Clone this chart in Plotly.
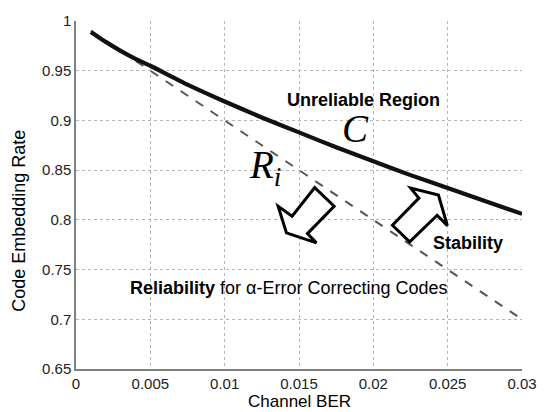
import plotly.graph_objects as go

# ---- data ----
ber_c = [0.001, 0.002, 0.003, 0.004, 0.005, 0.0075, 0.01, 0.0125, 0.015,
         0.0175, 0.02, 0.0225, 0.025, 0.0275, 0.03]
rate_c = [0.989, 0.979, 0.970, 0.962, 0.955, 0.936, 0.919, 0.903, 0.888,
          0.873, 0.859, 0.845, 0.832, 0.819, 0.806]

ber_r = [0.001, 0.005, 0.01, 0.015, 0.02, 0.025, 0.03]
rate_r = [0.99, 0.95, 0.90, 0.85, 0.80, 0.75, 0.70]

x_ticks = [0, 0.005, 0.01, 0.015, 0.02, 0.025, 0.03]
x_ticktext = ["0", "0.005", "0.01", "0.015", "0.02", "0.025", "0.03"]
y_ticks = [0.65, 0.7, 0.75, 0.8, 0.85, 0.9, 0.95, 1.0]
y_ticktext = ["0.65", "0.7", "0.75", "0.8", "0.85", "0.9", "0.95", "1"]

FONT = "Liberation Sans, Arial, sans-serif"
SERIF = "Liberation Serif, Times New Roman, serif"

fig = go.Figure()
fig.add_trace(go.Scatter(x=ber_r, y=rate_r, mode="lines",
                         line=dict(color="#555555", width=2, dash="dash"),
                         showlegend=False, hoverinfo="skip"))
fig.add_trace(go.Scatter(x=ber_c, y=rate_c, mode="lines",
                         line=dict(color="#111111", width=4.2, shape="spline",
                                   smoothing=0.6),
                         showlegend=False, hoverinfo="skip"))

# hollow block arrows: pixel outlines relative to an anchor point (y up)
arrow_down_left = [(8.3, 28), (27.7, 9.3), (1, -18), (10, -27.3), (-20, -17.3),
                   (-28.3, 9.3), (-14.3, -0.7)]
arrow_up_right = [(-27.7, -9.7), (-10.5, -26.3), (17, 0.3), (27.2, -10),
                  (18.3, 20.5), (-9.5, 27.5), (-1.3, 17.5)]


def arrow_path(pts):
    s = "M " + " L ".join(f"{px},{py}" for px, py in pts) + " Z"
    return s


for anchor, pts in [((0.0155, 0.8043), arrow_down_left),
                    ((0.02315, 0.8043), arrow_up_right)]:
    fig.add_shape(type="path", xref="x", yref="y",
                  xsizemode="pixel", ysizemode="pixel",
                  xanchor=anchor[0], yanchor=anchor[1],
                  path=arrow_path(pts),
                  line=dict(color="black", width=3),
                  fillcolor="white", layer="above")

ann = [
    dict(x=0.01937, y=0.9204, text="<b>Unreliable Region</b>",
         font=dict(family=FONT, size=18, color="black")),
    dict(x=0.0188, y=0.892, text="<i>C</i>",
         font=dict(family=SERIF, size=39, color="black")),
    dict(x=0.0127, y=0.853, text="<i>R<sub>i</sub></i>",
         font=dict(family=SERIF, size=39, color="black")),
    dict(x=0.02639, y=0.7768, text="<b>Stability</b>",
         font=dict(family=FONT, size=18, color="black")),
    dict(x=0.0143, y=0.7316,
         text="<b>Reliability</b> for α-Error Correcting Codes",
         font=dict(family=FONT, size=18, color="black")),
]
for a in ann:
    fig.add_annotation(xref="x", yref="y", showarrow=False,
                       xanchor="center", yanchor="middle", **a)

# axis titles
fig.add_annotation(xref="paper", yref="paper", x=0.5, y=0, yshift=-43,
                   xanchor="center", yanchor="bottom", showarrow=False,
                   borderpad=0, text="Channel BER",
                   font=dict(family=FONT, size=17, color="black"))
fig.add_annotation(xref="paper", yref="y", x=0, xshift=-57, y=0.799,
                   xanchor="center", yanchor="middle", showarrow=False,
                   textangle=-90, text="Code Embedding Rate",
                   font=dict(family=FONT, size=18, color="black"))

axis_common = dict(showgrid=True, gridcolor="#b5b5b5", griddash="dot",
                   gridwidth=1, showline=True, linecolor="#808080",
                   linewidth=1.5, zeroline=False, ticks="",
                   tickfont=dict(family=FONT, size=15, color="#222222"))

fig.update_xaxes(range=[0, 0.03], tickvals=x_ticks, ticktext=x_ticktext,
                 **axis_common)
fig.update_yaxes(range=[0.65, 1.0], tickvals=y_ticks, ticktext=y_ticktext,
                 **axis_common)

fig.update_layout(width=549, height=412,
                  margin=dict(l=76, r=20, t=13, b=43),
                  plot_bgcolor="white", paper_bgcolor="white",
                  showlegend=False)

fig.write_html("out.html")
